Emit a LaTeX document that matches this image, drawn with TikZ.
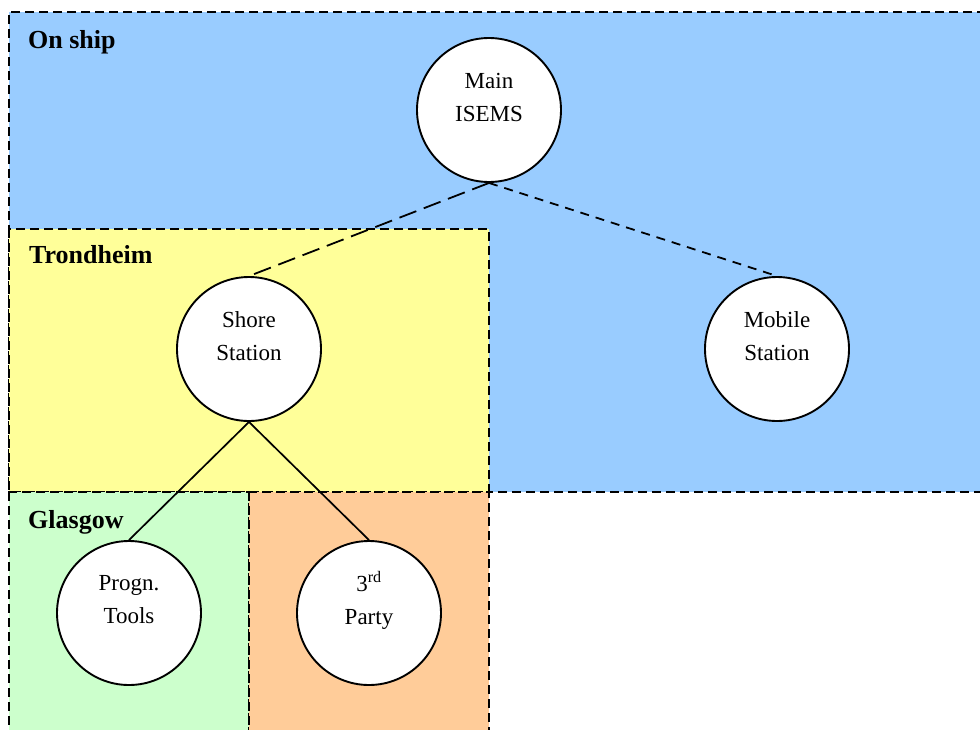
\documentclass[tikz,border=0pt]{standalone}
\usepackage{fontspec}
\setmainfont{Liberation Serif}
\definecolor{shipblue}{HTML}{99CCFF}
\definecolor{trdyellow}{HTML}{FFFF99}
\definecolor{glagreen}{HTML}{CCFFCC}
\definecolor{partyorange}{HTML}{FFCC99}
\tikzset{
  zone/.style={draw=black, line width=1.6pt, dash pattern=on 9pt off 5pt},
  zonelabel/.style={anchor=base west, font=\fontsize{26}{30}\selectfont\bfseries, inner sep=0pt},
  sitetext/.style={align=center, font=\fontsize{23}{33}\selectfont, inner sep=0pt, yshift=13pt},
  site/.style={circle, draw=black, fill=white, line width=1.9pt, minimum size=144pt, inner sep=0pt},
  link/.style={line width=1.7pt},
  longdash/.style={line width=1.8pt, dash pattern=on 18pt off 8pt},
  shortdash/.style={line width=1.8pt, dash pattern=on 9pt off 7pt}
}
\begin{document}
\begin{tikzpicture}[x=1pt,y=-1pt]
\useasboundingbox (0,0) rectangle (980,729);
\clip (0,0) rectangle (980,729);
% regions
\fill[shipblue] (9,12) rectangle (1000,492);
\draw[zone] (1000,12) -- (9,12) -- (9,492) -- (1000,492);
\path[zone, fill=trdyellow] (9,229) rectangle (489,492);
\path[zone, fill=glagreen] (9,492) rectangle (249,760);
\path[zone, fill=partyorange] (249,492) rectangle (489,760);
% region titles
\node[zonelabel] (lship) at (28,48) {On ship};
\node[zonelabel] (ltrd) at (29,263) {Trondheim};
\node[zonelabel] (lgla) at (28,528) {Glasgow};
% sites
\node[site, label={[sitetext]center:Main\\ISEMS}] (main) at (489,110) {};
\node[site, label={[sitetext]center:Shore\\Station}] (shore) at (249,349) {};
\node[site, label={[sitetext]center:Mobile\\Station}] (mobile) at (777,349) {};
\node[site, label={[sitetext]center:Progn.\\Tools}] (progn) at (129,613) {};
\node[site, label={[sitetext]center:3\textsuperscript{rd}\\Party}] (party) at (369,613) {};
% connections
\draw[longdash] (main.south) -- (shore.north);
\draw[shortdash] (main.south) -- (mobile.north);
\draw[link] (shore.south) -- (progn.north);
\draw[link] (shore.south) -- (party.north);
\end{tikzpicture}
\end{document}
